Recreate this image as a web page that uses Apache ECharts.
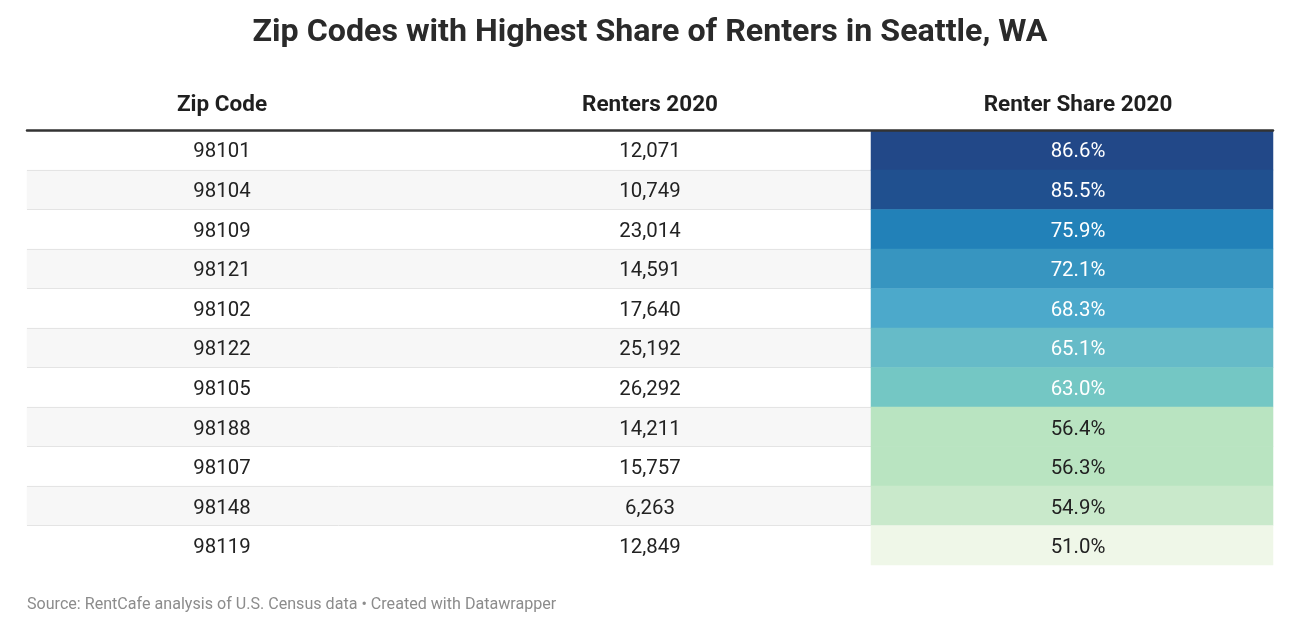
<!DOCTYPE html>
<html>
<head>
<meta charset="utf-8">
<title>Zip Codes with Highest Share of Renters in Seattle, WA</title>
<script src="https://cdn.jsdelivr.net/npm/echarts@6/dist/echarts.min.js"></script>
<style>
  html, body { margin: 0; padding: 0; background: #fff; }
  #chart { width: 1294px; height: 626px; }
</style>
</head>
<body>
<div id="chart"></div>
<script>
var headers = ['Zip Code', 'Renters 2020', 'Renter Share 2020'];
var zipCodes = ['98101', '98104', '98109', '98121', '98102', '98122', '98105', '98188', '98107', '98148', '98119'];
var renters = [12071, 10749, 23014, 14591, 17640, 25192, 26292, 14211, 15757, 6263, 12849];
var renterShare = [86.6, 85.5, 75.9, 72.1, 68.3, 65.1, 63.0, 56.4, 56.3, 54.9, 51.0];

var font = 'Roboto';
var tableTop = 130.5;
var tableHeight = 434.5;

var myChart = echarts.init(document.getElementById('chart'), null, { renderer: 'canvas' });

function stripeData() {
    var out = [];
    zipCodes.forEach(function(z, i) {
        if (i % 2 === 1) out.push([0, i, 1]);
    });
    return out;
}

// text columns sit in their own grid, the centres do not line up with the coloured cells
function textSeries(col, values, format, colorOf) {
    return {
        type: 'heatmap',
        xAxisIndex: 2,
        yAxisIndex: 2,
        z: 4,
        silent: true,
        itemStyle: { color: 'transparent' },
        emphasis: { disabled: true },
        data: values.map(function(v, i) {
            return {
                value: [col, i, v],
                label: { color: colorOf ? colorOf(v) : '#222222' }
            };
        }),
        label: {
            show: true,
            fontFamily: font,
            fontSize: 20.4,
            formatter: function(p) { return format(p.value[2]); }
        }
    };
}

var option = {
    backgroundColor: '#ffffff',
    animation: false,
    title: [{
        text: 'Zip Codes with Highest Share of Renters in Seattle, WA',
        left: 645,
        top: 12,
        textAlign: 'center',
        textStyle: { fontFamily: font, fontSize: 32.2, fontWeight: 700, color: '#2a2a2a' }
    }, {
        text: 'Source: RentCafe analysis of U.S. Census data • Created with Datawrapper',
        left: 27,
        top: 597,
        padding: 0,
        textStyle: { fontFamily: font, fontSize: 16.1, fontWeight: 400, color: '#8c8c8c' }
    }],
    grid: [
        { left: 27, width: 1246, top: tableTop, height: tableHeight },
        { left: 871, width: 402, top: tableTop, height: tableHeight },
        { left: 8, width: 1284, top: tableTop + 2, height: tableHeight + 1 }
    ],
    xAxis: [{
        gridIndex: 0,
        type: 'category',
        position: 'top',
        data: ['row'],
        z: 6,
        axisLine: { show: true, lineStyle: { color: '#333333', width: 2.5 } },
        axisTick: { show: false },
        axisLabel: { show: false }
    }, {
        gridIndex: 1,
        type: 'category',
        data: ['share'],
        show: false
    }, {
        gridIndex: 2,
        type: 'category',
        position: 'top',
        data: headers,
        axisLine: { show: false },
        axisTick: { show: false },
        axisLabel: {
            margin: 16,
            fontFamily: font,
            fontSize: 22.5,
            fontWeight: 700,
            color: '#1f1f1f'
        }
    }],
    yAxis: [{
        gridIndex: 0,
        type: 'category',
        inverse: true,
        data: zipCodes,
        z: 1,
        axisLine: { show: false },
        axisTick: { show: false },
        axisLabel: { show: false },
        splitLine: {
            show: true,
            showMinLine: false,
            showMaxLine: false,
            lineStyle: { color: '#e4e4e4', width: 1 }
        }
    }, {
        gridIndex: 1,
        type: 'category',
        inverse: true,
        data: zipCodes,
        show: false
    }, {
        gridIndex: 2,
        type: 'category',
        inverse: true,
        data: zipCodes,
        show: false
    }],
    visualMap: {
        show: false,
        type: 'piecewise',
        seriesIndex: 1,
        dimension: 2,
        pieces: [
            { lt: 53, color: '#eff7e8' },
            { gte: 53, lt: 56, color: '#c9e9cb' },
            { gte: 56, lt: 60, color: '#b9e4c1' },
            { gte: 60, lt: 64, color: '#74c7c4' },
            { gte: 64, lt: 67, color: '#66bbc8' },
            { gte: 67, lt: 70, color: '#4ca9cb' },
            { gte: 70, lt: 74, color: '#3795c0' },
            { gte: 74, lt: 80, color: '#2281b8' },
            { gte: 80, lt: 86, color: '#20508f' },
            { gte: 86, color: '#224888' }
        ]
    },
    series: [{
        type: 'heatmap',
        xAxisIndex: 0,
        yAxisIndex: 0,
        z: 0,
        silent: true,
        itemStyle: { color: '#f7f7f7' },
        emphasis: { disabled: true },
        data: stripeData()
    }, {
        type: 'heatmap',
        xAxisIndex: 1,
        yAxisIndex: 1,
        z: 2,
        silent: true,
        emphasis: { disabled: true },
        data: renterShare.map(function(v, i) { return [0, i, v]; })
    },
    textSeries(0, zipCodes, function(v) { return v; }),
    textSeries(1, renters, function(v) { return Number(v).toLocaleString('en-US'); }),
    textSeries(2, renterShare, function(v) { return Number(v).toFixed(1) + '%'; }, function(v) {
        return v > 60 ? '#ffffff' : '#222222';
    })]
};

myChart.setOption(option);
</script>
</body>
</html>
